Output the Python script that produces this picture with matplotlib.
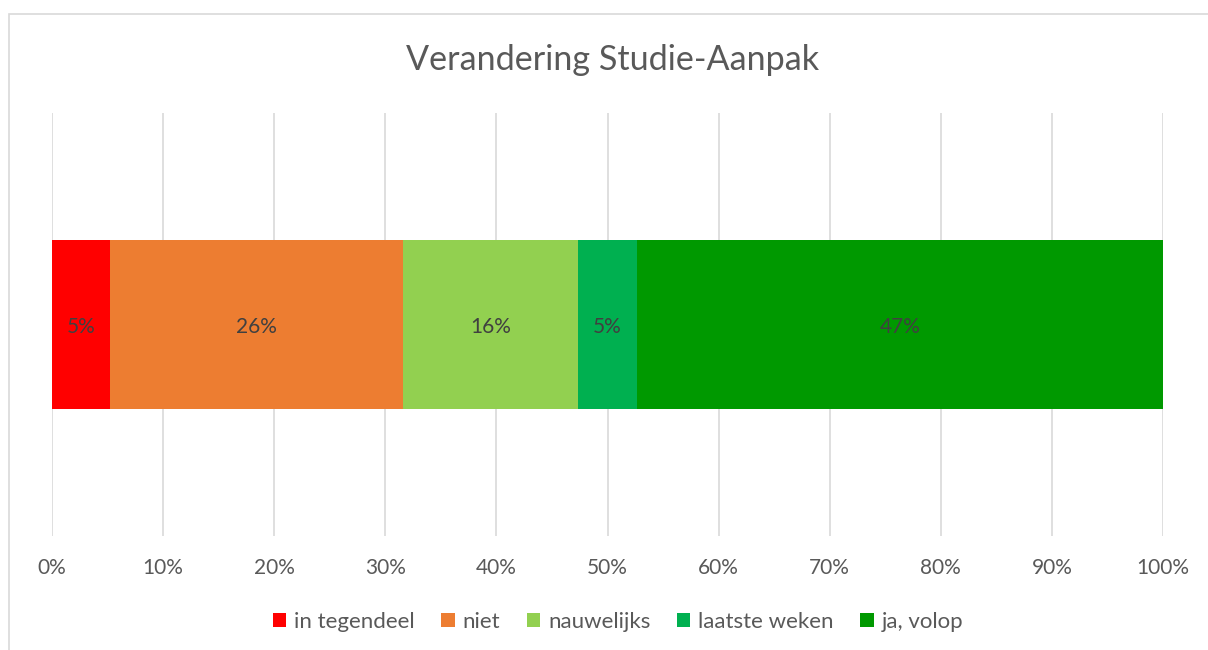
import matplotlib
matplotlib.use("Agg")
import matplotlib.pyplot as plt
from matplotlib.patches import Rectangle, Patch

plt.rcParams['font.family'] = ['Lato', 'DejaVu Sans']

categories = ["in tegendeel", "niet", "nauwelijks", "laatste weken", "ja, volop"]
values = [5.26, 26.32, 15.79, 5.26, 47.37]
labels = ["5%", "26%", "16%", "5%", "47%"]
colors = ["#FF0000", "#ED7D31", "#92D050", "#00B050", "#009900"]
ticks = list(range(0, 101, 10))
tick_labels = [f"{t}%" for t in ticks]
title = "Verandering Studie-Aanpak"

fig = plt.figure(figsize=(12.08, 6.5), dpi=100)
fig.patch.set_facecolor("white")
fig.patches.append(Rectangle((9/1208, -0.1), 1.2, (650-14)/650 + 0.1, transform=fig.transFigure,
                             fill=False, edgecolor="#D9D9D9", linewidth=1.2, zorder=0))

ax = fig.add_axes([52/1208, (650-536)/650, (1163-52)/1208, 423/650])
left = 0
for cat, v, lab, c in zip(categories, values, labels, colors):
    ax.barh(0, v, left=left, height=0.4, color=c, label=cat, zorder=3)
    ax.text(left + v/2, -0.005, lab, ha="center", va="center", fontsize=15, color="#404040", zorder=4)
    left += v

ax.set_xlim(0, 100)
ax.set_ylim(-0.5, 0.5)
ax.set_xticks(ticks)
ax.set_xticklabels(tick_labels, fontsize=15, color="#595959")
ax.set_yticks([])
ax.tick_params(axis="x", length=0, pad=16)
ax.grid(axis="x", color="#D9D9D9", linewidth=1.2, zorder=0)
for s in ax.spines.values():
    s.set_visible(False)

fig.text(612.5/1208, (650-60)/650, title, ha="center", va="center", fontsize=24.6, color="#595959")

handles = [Patch(facecolor=c, edgecolor="none") for c in colors]
fig.legend(handles, categories, loc="center", bbox_to_anchor=(618/1208, (650-622)/650), ncol=5,
           frameon=False, fontsize=16, handlelength=0.6, handleheight=0.6, handletextpad=0.35,
           columnspacing=1.2, labelcolor="#595959")

fig.savefig("out.png", dpi=100)
